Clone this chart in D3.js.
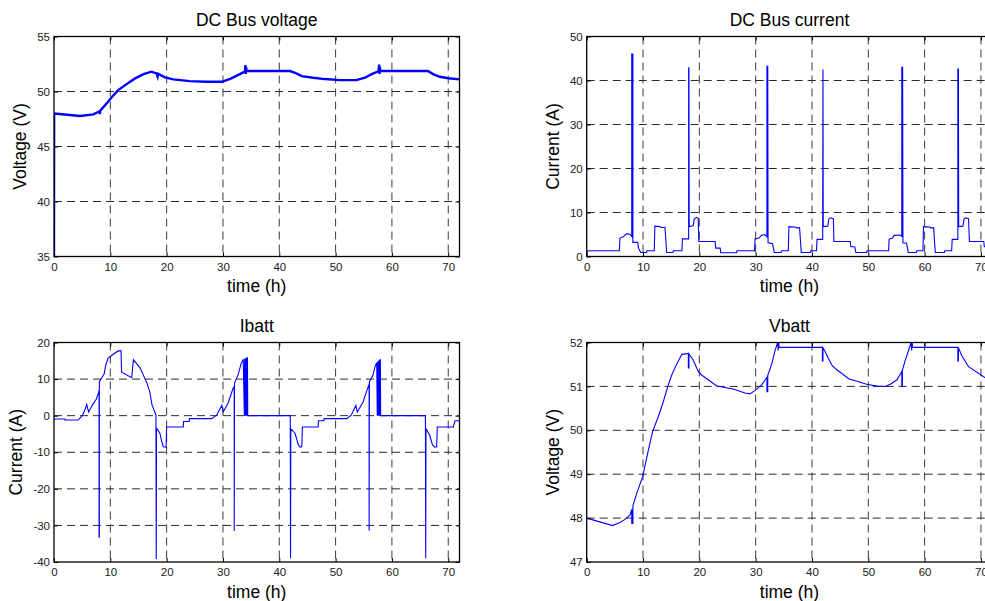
<!DOCTYPE html>
<html><head><meta charset="utf-8">
<script src="https://cdn.jsdelivr.net/npm/d3@7"></script>
<style>
body{margin:0;background:#fff}
svg{display:block}
text{font-family:"Liberation Sans",Arial,Helvetica,sans-serif}
</style>
</head><body>
<svg id="c" width="985" height="601"></svg>
<script>
// ---------- data ----------
const timeTicks = [0,10,20,30,40,50,60,70];
const busVoltageTicks = [35,40,45,50,55];
const busCurrentTicks = [0,10,20,30,40,50];
const ibattTicks = [-40,-30,-20,-10,0,10,20];
const vbattTicks = [47,48,49,50,51,52];

const titles = ["DC Bus voltage","DC Bus current","Ibatt","Vbatt"];
const yLabels = ["Voltage (V)","Current (A)","Current (A)","Voltage (V)"];
const xLabel = "time (h)";

// [time h, volts]
const busVoltage = [[0,35],[0.02,48.0],[2.8,47.86],[4.6,47.77],[7.0,47.92],[8.1,48.2],[8.15,47.95],[8.2,48.25],
 [9.35,48.92],[10.2,49.46],[11.4,50.13],[12.9,50.67],[14.4,51.19],[15.9,51.58],[17.3,51.8],[18.2,51.64],
 [18.4,51.35],[18.5,51.6],[19.7,51.28],[21.2,51.1],[24.1,50.94],[27.1,50.88],[29.8,50.88],[31.5,51.19],
 [33.0,51.58],[33.9,51.8],[34.0,52.4],[34.05,51.6],[34.1,52.2],[34.2,51.86],[41.9,51.86],[42.8,51.7],
 [43.97,51.4],[46.0,51.25],[48.1,51.13],[50.8,51.03],[53.7,51.03],[55.2,51.25],[56.4,51.58],[57.6,51.84],
 [57.75,52.45],[57.8,51.6],[57.85,52.2],[57.95,51.86],[66.4,51.86],[67.3,51.58],[68.5,51.34],[70.0,51.2],[72,51.1]];

// [time h, amps]
const busCurrent = [[0,1.0],[0.3,1.3],[5.8,1.3],[5.9,4.2],[6.5,4.5],[7.1,5.2],[7.7,5.0],[8.0,4.5],
 [8.0,46],[8.2,46],[8.2,3.2],[9.05,3.2],[9.2,1.9],[9.6,0.9],[10.6,0.9],[10.7,1.3],[12.0,1.3],[12.1,6.9],
 [13.0,6.8],[13.2,6.6],[13.9,6.6],[14.2,0.9],[15.3,0.9],[15.4,1.3],[16.9,1.3],[17.0,4.0],[18.1,4.0],
 [18.1,42.9],[18.15,42.9],[18.2,6.8],[18.9,7.0],[19.1,8.5],[19.5,8.9],[19.8,8.7],[19.9,3.4],[22.8,3.4],
 [22.9,1.9],[23.7,1.9],[23.8,0.85],[26.6,0.85],[26.7,1.3],[29.8,1.3],[29.9,4.0],[30.6,4.2],[31.0,4.8],
 [31.6,5.0],[32.0,4.5],[32.0,43.2],[32.15,43.2],[32.2,3.1],[33.0,2.9],[33.3,0.9],[34.5,0.9],[34.6,1.3],
 [35.8,1.3],[35.9,6.8],[37.0,6.7],[37.2,6.5],[37.8,6.5],[38.1,0.9],[39.7,0.9],[39.8,1.3],[40.8,1.3],
 [40.9,3.9],[41.9,3.9],[41.95,42.5],[42.0,6.8],[42.8,6.9],[43.0,8.5],[43.3,8.8],[43.8,8.6],[43.9,3.4],
 [46.8,3.4],[46.9,2.2],[47.6,2.2],[47.8,0.9],[49.7,0.9],[49.8,1.3],[53.6,1.3],[53.7,3.9],[54.3,4.2],
 [54.6,4.8],[55.5,4.9],[55.95,4.6],[55.95,43.0],[56.1,43.0],[56.15,3.1],[56.8,3.0],[57.1,0.9],[58.5,0.9],
 [58.6,1.3],[59.7,1.3],[59.8,6.8],[60.9,6.7],[61.1,6.5],[61.6,6.5],[61.9,0.9],[63.5,0.9],[63.6,1.3],
 [64.8,1.3],[64.9,3.9],[65.9,3.9],[65.9,42.6],[66.0,42.6],[66.05,6.8],[66.8,6.9],[67.0,8.5],[67.3,8.8],
 [67.8,8.6],[67.95,3.4],[70.5,3.4],[70.6,2.2],[72,2.2]];

// [time h, amps]
const ibatt = [[0,-0.9],[1.95,-0.9],[1.95,-1.2],[4.3,-1.2],[5.0,0.0],[5.5,1.6],[5.8,3.1],[6.15,1.0],
 [6.9,3.1],[7.5,4.5],[7.9,6.2],[8.0,7.0],[8.0,-33.2],[8.05,-33.2],[8.05,9.3],[8.9,11.4],[9.2,13.9],
 [9.6,15.7],[10.5,16.8],[11.4,17.7],[11.9,17.7],[12.0,11.9],[13.8,10.4],[14.1,15.3],[15.3,13.0],
 [16.5,8.9],[17.0,6.6],[17.4,2.95],[18.1,0.2],[18.15,-39.2],[18.2,-3.4],[18.8,-4.8],[19.1,-6.9],
 [19.4,-8.5],[19.9,-8.6],[20.0,-3.1],[22.96,-3.1],[23.0,-1.6],[24.0,-1.6],[24.05,-0.8],[28.0,-0.8],
 [28.9,0.2],[29.8,2.8],[30.05,1.0],[30.9,3.4],[31.8,7.5],[32.0,8.0],[32.0,-31.5],[32.05,8.9],[32.7,11.2],
 [33.2,14.1],[33.6,15.4],[33.8,0],[33.85,15.5],[33.9,0],[33.95,15.6],[34.0,0],[34.05,15.7],[34.1,0],
 [34.15,15.8],[34.2,0],[34.25,15.9],[34.3,0],[34.35,16.0],[34.4,0],[41.95,0],[42.0,-39],[42.05,-3.6],
 [42.8,-4.8],[43.4,-8.0],[43.7,-8.6],[44.0,-8.5],[44.1,-3.1],[46.9,-3.1],[46.95,-1.4],[47.9,-1.4],
 [47.95,-0.8],[52.0,-0.8],[52.8,0.2],[53.6,2.8],[53.85,1.0],[54.9,3.8],[55.8,8.0],[55.95,8.5],
 [55.95,-31.4],[56.0,9.3],[56.6,10.9],[57.0,13.4],[57.3,14.5],[57.4,0],[57.45,14.7],[57.5,0],[57.55,14.9],
 [57.6,0],[57.65,15.0],[57.7,0],[57.75,15.2],[57.8,0],[57.85,15.3],[57.9,0],[57.95,15.5],[58.0,0],
 [65.95,0],[66.0,-39],[66.05,-3.6],[66.7,-5.3],[67.2,-8.0],[67.6,-8.6],[67.95,-8.5],[68.05,-3.1],
 [70.9,-3.1],[71.2,-1.4],[72,-1.4]];

// [time h, volts]
const vbatt = [[0,48.0],[4.6,47.83],[5.9,47.9],[6.8,47.97],[7.7,48.07],[8.0,48.2],[8.0,47.88],[8.2,47.88],
 [8.2,48.28],[8.9,48.57],[9.95,48.95],[10.95,49.55],[11.7,49.97],[12.7,50.31],[13.6,50.65],[14.5,51.04],
 [15.1,51.26],[15.9,51.49],[16.9,51.73],[18.05,51.75],[18.05,51.42],[18.15,51.42],[18.15,51.74],
 [18.9,51.6],[19.8,51.34],[20.4,51.26],[23.1,51.01],[26.0,50.94],[28.1,50.85],[29.0,50.83],[29.9,50.91],
 [31.1,51.04],[32.0,51.21],[32.0,50.88],[32.15,50.88],[32.15,51.25],[32.9,51.53],[33.4,51.8],[33.9,52.0],
 [34.0,51.82],[34.1,52.0],[34.15,51.89],[41.85,51.89],[41.85,51.58],[41.95,51.58],[41.95,51.88],
 [42.3,51.8],[42.9,51.64],[43.6,51.47],[44.4,51.38],[46.6,51.17],[47.7,51.13],[49.7,51.05],[51.8,51.0],
 [53.0,51.0],[53.9,51.05],[55.1,51.15],[55.95,51.34],[55.95,51.0],[56.05,51.0],[56.05,51.36],[56.5,51.57],
 [57.1,51.8],[57.6,52.0],[57.7,51.82],[57.8,52.0],[57.85,51.89],[65.9,51.89],[65.9,51.58],[66.0,51.58],
 [66.0,51.88],[66.6,51.7],[67.8,51.45],[70.7,51.2],[72,51.1]];

// ---------- layout ----------
const panels = [
 {data:busVoltage, dom:[35,55], ticks:busVoltageTicks, x:54, y:36.5, w:405.5, h:220, lw:2.4, ylab:-28},
 {data:busCurrent, dom:[0,50],  ticks:busCurrentTicks, x:586.7, y:36.5, w:405.5, h:220, lw:1.1, ylab:-28},
 {data:ibatt,      dom:[-40,20],ticks:ibattTicks,      x:54, y:342.5, w:405.5, h:219.5, lw:1.1, ylab:-32},
 {data:vbatt,      dom:[47,52], ticks:vbattTicks,      x:586.7, y:342.5, w:405.5, h:219.5, lw:1.1, ylab:-28}
];

const svg = d3.select("#c");
const fmt = d => String(d);

panels.forEach((p,i) => {
  const g = svg.append("g").attr("transform",`translate(${p.x},${p.y})`);
  const x = d3.scaleLinear().domain([0,72]).range([0,p.w]);
  const y = d3.scaleLinear().domain(p.dom).range([p.h,0]);

  g.append("clipPath").attr("id","clip"+i).append("rect")
    .attr("x",0).attr("y",-1).attr("width",p.w).attr("height",p.h+2);

  // grid
  g.selectAll(".vg").data(timeTicks.filter(t => t>0)).enter().append("line")
    .attr("x1",d=>x(d)).attr("x2",d=>x(d)).attr("y1",0).attr("y2",p.h)
    .attr("stroke","#3a3a3a").attr("stroke-width",1).attr("stroke-dasharray","8,5");
  g.selectAll(".hg").data(p.ticks.filter(t => t>p.dom[0] && t<p.dom[1])).enter().append("line")
    .attr("x1",0).attr("x2",p.w).attr("y1",d=>y(d)).attr("y2",d=>y(d))
    .attr("stroke","#2a2a2a").attr("stroke-width",1).attr("stroke-dasharray","8,5");

  // data
  const line = d3.line().x(d=>x(d[0])).y(d=>y(d[1]));
  g.append("path").datum(p.data).attr("d",line)
    .attr("fill","none").attr("stroke","#0000ff").attr("stroke-width",p.lw)
    .attr("stroke-linejoin","miter").attr("clip-path",`url(#clip${i})`);

  // axes
  const styleAxis = sel => {
    sel.select(".domain").remove();
    sel.selectAll(".tick line").attr("stroke","#000");
    sel.selectAll(".tick text").attr("fill","#1a1a1a").style("font-size","11.5px")
      .style("font-family",'"Liberation Sans",Arial,sans-serif');
  };
  g.append("g").attr("transform",`translate(0,${p.h})`)
    .call(d3.axisBottom(x).tickValues(timeTicks).tickFormat(fmt).tickSizeInner(-4).tickSizeOuter(0).tickPadding(6))
    .call(styleAxis);
  g.append("g")
    .call(d3.axisTop(x).tickValues(timeTicks).tickFormat("").tickSizeInner(-4).tickSizeOuter(0))
    .call(styleAxis);
  g.append("g")
    .call(d3.axisLeft(y).tickValues(p.ticks).tickFormat(fmt).tickSizeInner(-4).tickSizeOuter(0).tickPadding(4))
    .call(styleAxis);
  g.append("g").attr("transform",`translate(${p.w},0)`)
    .call(d3.axisRight(y).tickValues(p.ticks).tickFormat("").tickSizeInner(-4).tickSizeOuter(0))
    .call(styleAxis);

  g.append("rect").attr("x",0).attr("y",0).attr("width",p.w).attr("height",p.h)
    .attr("fill","none").attr("stroke","#000").attr("stroke-width",1.3);

  // labels
  g.append("text").attr("x",p.w/2).attr("y",-10.5).attr("text-anchor","middle")
    .style("font-size","17.5px").attr("fill","#000").text(titles[i]);
  g.append("text").attr("x",p.w/2).attr("y",p.h+35.5).attr("text-anchor","middle")
    .style("font-size","17.5px").attr("fill","#000").text(xLabel);
  g.append("text").attr("transform",`translate(${p.ylab},${p.h/2}) rotate(-90)`)
    .attr("text-anchor","middle").style("font-size","17.5px").attr("fill","#000").text(yLabels[i]);
});
</script>
</body></html>
